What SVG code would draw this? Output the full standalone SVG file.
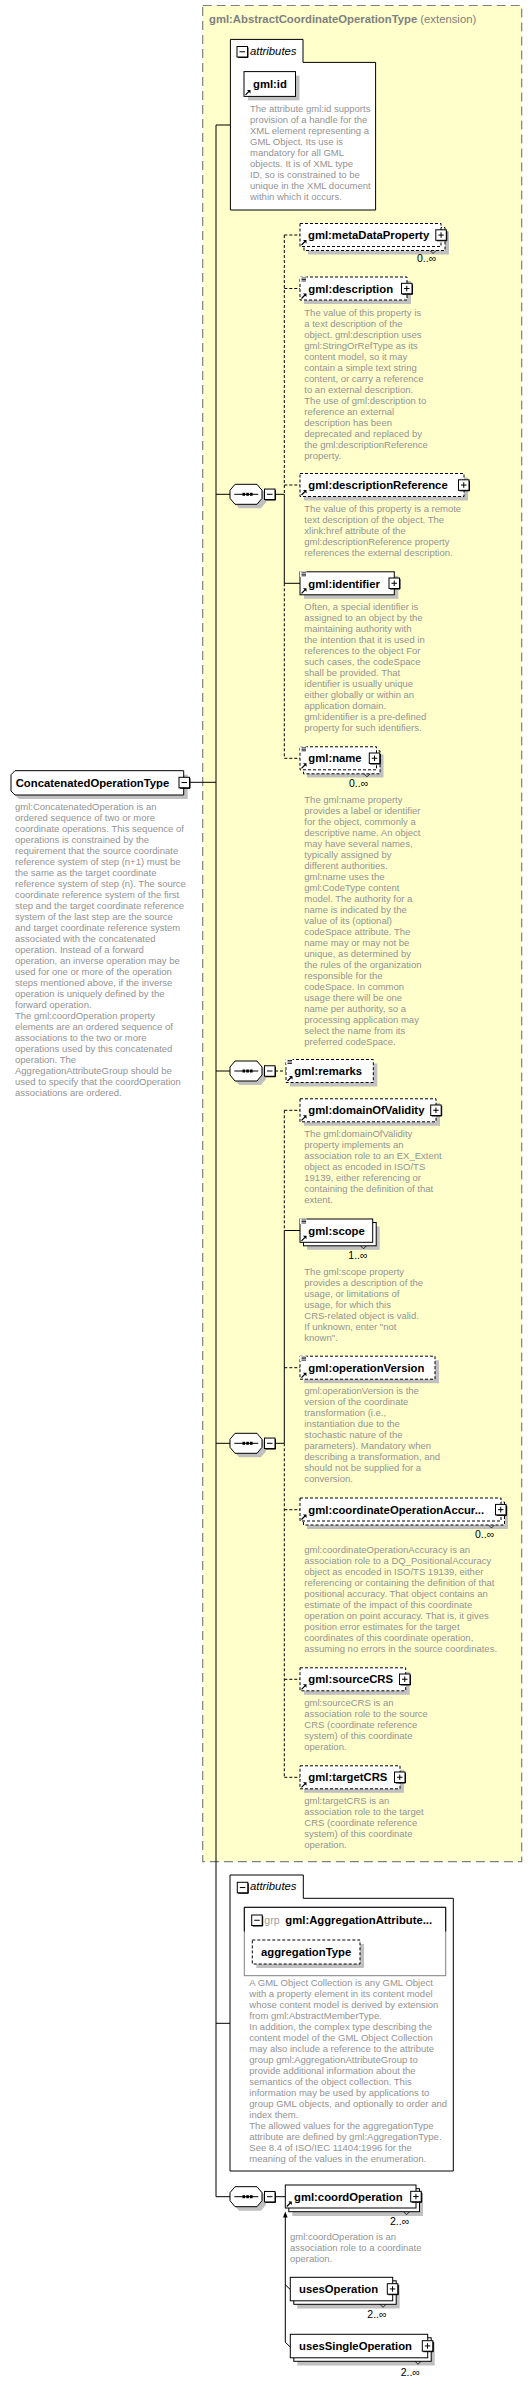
<svg xmlns="http://www.w3.org/2000/svg" width="532" height="2384" viewBox="0 0 532 2384">
<style>
text{font-family:"Liberation Sans",Arial,sans-serif}
.desc{font-size:9.5px;fill:#939393}
.nm{font-size:11.3px;font-weight:bold;fill:#000}
.occ{font-size:10.5px;fill:#000}
.sh{fill:#c0c0c0;stroke:none}
.box{fill:#fff;stroke:#000;stroke-width:1}
.dbox{fill:#fff;stroke:#000;stroke-width:1;stroke-dasharray:3,2}
.ln{stroke:#000;stroke-width:1;fill:none}
.dln{stroke:#000;stroke-width:1;fill:none;stroke-dasharray:3,2}
.notch{fill:none;stroke:#000;stroke-width:0.8}
</style>
<defs>
<g id="plus"><rect x="0" y="0" width="10.5" height="10.5" fill="#fff" stroke="#000"/><path d="M11,1V11H1" fill="none" stroke="#000"/><path d="M2.5,5.25H8M5.25,2.5V8" stroke="#000"/></g>
<g id="minus"><rect x="0" y="0" width="10.5" height="10.5" fill="#fff" stroke="#000"/><path d="M11,1V11H1" fill="none" stroke="#000"/><path d="M2.5,5.25H8" stroke="#000"/></g>
<g id="lines"><rect x="-0.5" y="-0.5" width="6.5" height="5.5" fill="#fff"/><path d="M1,1H5.5M1,2.5H5.5M1,4H5.5" stroke="#000" stroke-width="0.8"/></g>
<g id="ref"><path d="M1.5,-1.5L5,-5" stroke="#000" stroke-width="1.2"/><path d="M3,-6.5H6.5V-3Z" fill="#000"/></g>
<g id="seq">
<path class="sh" d="M4,0L9,-6H31L36,0V8L31,14H9L4,8Z"/>
<path class="box" d="M0,-4L5,-10H27L32,-4V4L27,10H5L0,4Z"/>
<path d="M4.3,0H28.3" stroke="#000"/>
<rect x="12.5" y="-1.5" width="2.6" height="3" fill="#000"/><rect x="16.3" y="-1.5" width="2.6" height="3" fill="#000"/><rect x="20" y="-1.5" width="2.6" height="3" fill="#000"/>
<use href="#minus" x="34.5" y="-5.25"/>
</g>
</defs>

<rect x="0" y="0" width="532" height="2384" fill="#fff"/>

<g id="ext-AbstractCoordinateOperationType">
<rect x="202.7" y="5.5" width="319" height="1856.2" fill="#ffffcc" stroke="#808080" stroke-width="1.2" stroke-dasharray="9,5"/>
<text x="209" y="23" style="font-size:11.3px;fill:#808080"><tspan font-weight="bold">gml:AbstractCoordinateOperationType</tspan> (extension)</text>
</g>

<g id="connectors">
<path class="ln" d="M216,125V2196.7M189.7,782.3H216M216,125H230.4M216,494.3H230M216,1071H230M216,1443.3H230M216,2023.3H230M216,2196.7H230"/>
<path class="ln" d="M275,494.3H284.3M284.3,494.3V583.3M284.3,583.3H300"/>
<path class="dln" d="M284.3,235V494.3M284.3,583.3V758.3M284.3,235H300M284.3,288.5H300M284.3,485H300M284.3,758.3H300"/>
<path class="dln" d="M275,1071H286"/>
<path class="ln" d="M275,1443.3H284.3M284.3,1230.5V1443.3M284.3,1230.5H300"/>
<path class="dln" d="M284.3,1110.3V1230.5M284.3,1443.3V1777.3M284.3,1110.3H300M284.3,1367.7H300M284.3,1509.7H300M284.3,1679.3H300M284.3,1777.3H300"/>
<path class="ln" d="M275,2196.7H285.3"/>
<path class="ln" d="M285.3,2216V2342.3M285.3,2284.8L290.3,2289.5M285.3,2342.3L290.3,2347"/>
<path d="M285.3,2211.5L283,2217.5H287.6Z" fill="#000"/>
<use href="#seq" x="230" y="494.3"/>
<use href="#seq" x="230" y="1071"/>
<use href="#seq" x="230" y="1443.3"/>
<use href="#seq" x="230" y="2196.7"/>
</g>

<g id="n-ConcatenatedOperationType">
<path class="sh" d="M19,774.7H187.7V799H19L15,795V778.7Z"/>
<path class="box" d="M15,770.7H183.7V795H15L11,791V774.7Z"/>
<text class="nm" x="15.7" y="786.5">ConcatenatedOperationType</text>
<use href="#minus" x="179" y="777.3"/>
<text class="desc" x="15" y="810"><tspan x="15" dy="0">gml:ConcatenatedOperation is an</tspan><tspan x="15" dy="11">ordered sequence of two or more</tspan><tspan x="15" dy="11">coordinate operations. This sequence of</tspan><tspan x="15" dy="11">operations is constrained by the</tspan><tspan x="15" dy="11">requirement that the source coordinate</tspan><tspan x="15" dy="11">reference system of step (n+1) must be</tspan><tspan x="15" dy="11">the same as the target coordinate</tspan><tspan x="15" dy="11">reference system of step (n). The source</tspan><tspan x="15" dy="11">coordinate reference system of the first</tspan><tspan x="15" dy="11">step and the target coordinate reference</tspan><tspan x="15" dy="11">system of the last step are the source</tspan><tspan x="15" dy="11">and target coordinate reference system</tspan><tspan x="15" dy="11">associated with the concatenated</tspan><tspan x="15" dy="11">operation. Instead of a forward</tspan><tspan x="15" dy="11">operation, an inverse operation may be</tspan><tspan x="15" dy="11">used for one or more of the operation</tspan><tspan x="15" dy="11">steps mentioned above, if the inverse</tspan><tspan x="15" dy="11">operation is uniquely defined by the</tspan><tspan x="15" dy="11">forward operation.</tspan><tspan x="15" dy="11">The gml:coordOperation property</tspan><tspan x="15" dy="11">elements are an ordered sequence of</tspan><tspan x="15" dy="11">associations to the two or more</tspan><tspan x="15" dy="11">operations used by this concatenated</tspan><tspan x="15" dy="11">operation. The</tspan><tspan x="15" dy="11">AggregationAttributeGroup should be</tspan><tspan x="15" dy="11">used to specify that the coordOperation</tspan><tspan x="15" dy="11">associations are ordered.</tspan></text>
</g>

<g id="attributes-1">
<path class="box" d="M230.4,39.4H303V62.4H375.6V210H230.4Z"/>
<use href="#minus" x="237" y="46.5"/>
<text x="250" y="55" style="font-size:11.3px;font-style:italic;fill:#000">attributes</text>
</g>

<g id="a-gml-id">
<rect class="sh" x="248" y="75.6" width="51.5" height="24.8"/>
<rect class="box" x="244" y="71.6" width="51.5" height="24.8"/>
<use href="#ref" x="244" y="96.4"/>
<text class="nm" x="253" y="87.5">gml:id</text>
<text class="desc" x="250" y="112"><tspan x="250" dy="0">The attribute gml:id supports</tspan><tspan x="250" dy="11">provision of a handle for the</tspan><tspan x="250" dy="11">XML element representing a</tspan><tspan x="250" dy="11">GML Object. Its use is</tspan><tspan x="250" dy="11">mandatory for all GML</tspan><tspan x="250" dy="11">objects. It is of XML type</tspan><tspan x="250" dy="11">ID, so is constrained to be</tspan><tspan x="250" dy="11">unique in the XML document</tspan><tspan x="250" dy="11">within which it occurs.</tspan></text>
</g>

<g id="e-metaDataProperty">
<rect class="sh" x="308" y="231.5" width="141" height="23"/>
<rect class="dbox" x="304" y="227.5" width="141" height="23"/>
<rect class="dbox" x="300" y="223.5" width="141" height="23"/>
<path class="notch" d="M430,250.5L433,253.5L436,250.5"/>
<use href="#ref" x="300" y="246.5"/>
<text class="nm" x="308" y="239">gml:metaDataProperty</text>
<use href="#plus" x="435.8" y="229.8"/>
<text class="occ" x="417" y="262">0..∞</text>
</g>

<g id="e-description">
<rect class="sh" x="304" y="281" width="107" height="23"/>
<rect class="dbox" x="300" y="277" width="107" height="23"/>
<use href="#lines" x="300.5" y="277"/>
<use href="#ref" x="300" y="300"/>
<text class="nm" x="308.3" y="292.5">gml:description</text>
<use href="#plus" x="401.5" y="283.3"/>
<text class="desc" x="304.3" y="315.5"><tspan x="304.3" dy="0">The value of this property is</tspan><tspan x="304.3" dy="11">a text description of the</tspan><tspan x="304.3" dy="11">object. gml:description uses</tspan><tspan x="304.3" dy="11">gml:StringOrRefType as its</tspan><tspan x="304.3" dy="11">content model, so it may</tspan><tspan x="304.3" dy="11">contain a simple text string</tspan><tspan x="304.3" dy="11">content, or carry a reference</tspan><tspan x="304.3" dy="11">to an external description.</tspan><tspan x="304.3" dy="11">The use of gml:description to</tspan><tspan x="304.3" dy="11">reference an external</tspan><tspan x="304.3" dy="11">description has been</tspan><tspan x="304.3" dy="11">deprecated and replaced by</tspan><tspan x="304.3" dy="11">the gml:descriptionReference</tspan><tspan x="304.3" dy="11">property.</tspan></text>
</g>

<g id="e-descriptionReference">
<rect class="sh" x="304" y="477.5" width="164" height="23"/>
<rect class="dbox" x="300" y="473.5" width="164" height="23"/>
<use href="#ref" x="300" y="496.5"/>
<text class="nm" x="308.3" y="489">gml:descriptionReference</text>
<use href="#plus" x="458.5" y="479.8"/>
<text class="desc" x="304.3" y="511.7"><tspan x="304.3" dy="0">The value of this property is a remote</tspan><tspan x="304.3" dy="11">text description of the object. The</tspan><tspan x="304.3" dy="11">xlink:href attribute of the</tspan><tspan x="304.3" dy="11">gml:descriptionReference property</tspan><tspan x="304.3" dy="11">references the external description.</tspan></text>
</g>

<g id="e-identifier">
<rect class="sh" x="304" y="575.8" width="94.3" height="23"/>
<rect class="box" x="300" y="571.8" width="94.3" height="23"/>
<use href="#lines" x="300.5" y="571.8"/>
<use href="#ref" x="300" y="594.8"/>
<text class="nm" x="308.3" y="587.5">gml:identifier</text>
<use href="#plus" x="389" y="578"/>
<text class="desc" x="304.3" y="610"><tspan x="304.3" dy="0">Often, a special identifier is</tspan><tspan x="304.3" dy="11">assigned to an object by the</tspan><tspan x="304.3" dy="11">maintaining authority with</tspan><tspan x="304.3" dy="11">the intention that it is used in</tspan><tspan x="304.3" dy="11">references to the object For</tspan><tspan x="304.3" dy="11">such cases, the codeSpace</tspan><tspan x="304.3" dy="11">shall be provided. That</tspan><tspan x="304.3" dy="11">identifier is usually unique</tspan><tspan x="304.3" dy="11">either globally or within an</tspan><tspan x="304.3" dy="11">application domain.</tspan><tspan x="304.3" dy="11">gml:identifier is a pre-defined</tspan><tspan x="304.3" dy="11">property for such identifiers.</tspan></text>
</g>

<g id="e-name">
<rect class="sh" x="307" y="754.5" width="76.5" height="23"/>
<rect class="dbox" x="303.5" y="750.8" width="76.5" height="23"/>
<rect class="dbox" x="300" y="746.8" width="76.5" height="23"/>
<path class="notch" d="M364,773.8L367,776.8L370,773.8"/>
<use href="#lines" x="300.5" y="746.8"/>
<use href="#ref" x="300" y="769.8"/>
<text class="nm" x="308.3" y="762">gml:name</text>
<use href="#plus" x="369.3" y="753"/>
<text class="occ" x="349" y="786.7">0..∞</text>
<text class="desc" x="304.3" y="802.5"><tspan x="304.3" dy="0">The gml:name property</tspan><tspan x="304.3" dy="11">provides a label or identifier</tspan><tspan x="304.3" dy="11">for the object, commonly a</tspan><tspan x="304.3" dy="11">descriptive name. An object</tspan><tspan x="304.3" dy="11">may have several names,</tspan><tspan x="304.3" dy="11">typically assigned by</tspan><tspan x="304.3" dy="11">different authorities.</tspan><tspan x="304.3" dy="11">gml:name uses the</tspan><tspan x="304.3" dy="11">gml:CodeType content</tspan><tspan x="304.3" dy="11">model.  The authority for a</tspan><tspan x="304.3" dy="11">name is indicated by the</tspan><tspan x="304.3" dy="11">value of its (optional)</tspan><tspan x="304.3" dy="11">codeSpace attribute.  The</tspan><tspan x="304.3" dy="11">name may or may not be</tspan><tspan x="304.3" dy="11">unique, as determined by</tspan><tspan x="304.3" dy="11">the rules of the organization</tspan><tspan x="304.3" dy="11">responsible for the</tspan><tspan x="304.3" dy="11">codeSpace.  In common</tspan><tspan x="304.3" dy="11">usage there will be one</tspan><tspan x="304.3" dy="11">name per authority, so a</tspan><tspan x="304.3" dy="11">processing application may</tspan><tspan x="304.3" dy="11">select the name from its</tspan><tspan x="304.3" dy="11">preferred codeSpace.</tspan></text>
</g>

<g id="e-remarks">
<rect class="sh" x="290" y="1063.5" width="87.3" height="23"/>
<rect class="dbox" x="286" y="1059.5" width="87.3" height="23"/>
<use href="#lines" x="286.5" y="1059.5"/>
<use href="#ref" x="286" y="1082.5"/>
<text class="nm" x="294.3" y="1075">gml:remarks</text>
</g>

<g id="e-domainOfValidity">
<rect class="sh" x="304" y="1102.8" width="136" height="23"/>
<rect class="dbox" x="300" y="1098.8" width="136" height="23"/>
<use href="#ref" x="300" y="1121.8"/>
<text class="nm" x="308.3" y="1114.3">gml:domainOfValidity</text>
<use href="#plus" x="430.7" y="1105"/>
<text class="desc" x="304.3" y="1136.7"><tspan x="304.3" dy="0">The gml:domainOfValidity</tspan><tspan x="304.3" dy="11">property implements an</tspan><tspan x="304.3" dy="11">association role to an EX_Extent</tspan><tspan x="304.3" dy="11">object as encoded in ISO/TS</tspan><tspan x="304.3" dy="11">19139, either referencing or</tspan><tspan x="304.3" dy="11">containing the definition of that</tspan><tspan x="304.3" dy="11">extent.</tspan></text>
</g>

<g id="e-scope">
<rect class="sh" x="307" y="1226.5" width="72.7" height="23.3"/>
<rect class="box" x="303.5" y="1222.5" width="72.7" height="23.3"/>
<rect class="box" x="300" y="1219" width="72.7" height="23.3"/>
<path class="notch" d="M360.5,1245.8L363.5,1248.8L366.5,1245.8"/>
<use href="#lines" x="300.5" y="1219"/>
<use href="#ref" x="300" y="1242.3"/>
<text class="nm" x="308.3" y="1234.5">gml:scope</text>
<text class="occ" x="348.3" y="1259.3">1..∞</text>
<text class="desc" x="304.3" y="1275"><tspan x="304.3" dy="0">The gml:scope property</tspan><tspan x="304.3" dy="11">provides a description of the</tspan><tspan x="304.3" dy="11">usage, or limitations of</tspan><tspan x="304.3" dy="11">usage, for which this</tspan><tspan x="304.3" dy="11">CRS-related object is valid.</tspan><tspan x="304.3" dy="11">If unknown, enter "not</tspan><tspan x="304.3" dy="11">known".</tspan></text>
</g>

<g id="e-operationVersion">
<rect class="sh" x="304" y="1360.2" width="135" height="23"/>
<rect class="dbox" x="300" y="1356.2" width="135" height="23"/>
<use href="#lines" x="300.5" y="1356.2"/>
<use href="#ref" x="300" y="1379.2"/>
<text class="nm" x="308.3" y="1371.7">gml:operationVersion</text>
<text class="desc" x="304.3" y="1394"><tspan x="304.3" dy="0">gml:operationVersion is the</tspan><tspan x="304.3" dy="11">version of the coordinate</tspan><tspan x="304.3" dy="11">transformation (i.e.,</tspan><tspan x="304.3" dy="11">instantiation due to the</tspan><tspan x="304.3" dy="11">stochastic nature of the</tspan><tspan x="304.3" dy="11">parameters). Mandatory when</tspan><tspan x="304.3" dy="11">describing a transformation, and</tspan><tspan x="304.3" dy="11">should not be supplied for a</tspan><tspan x="304.3" dy="11">conversion.</tspan></text>
</g>

<g id="e-coordinateOperationAccuracy">
<rect class="sh" x="307" y="1506" width="201" height="23"/>
<rect class="dbox" x="303.5" y="1502" width="201" height="23"/>
<rect class="dbox" x="300" y="1498" width="201" height="23"/>
<path class="notch" d="M488.5,1525L491.5,1528L494.5,1525"/>
<use href="#ref" x="300" y="1521"/>
<text class="nm" x="308.3" y="1513.7">gml:coordinateOperationAccur...</text>
<use href="#plus" x="495.5" y="1504.4"/>
<text class="occ" x="475" y="1538.3">0..∞</text>
<text class="desc" x="304.3" y="1553.3"><tspan x="304.3" dy="0">gml:coordinateOperationAccuracy is an</tspan><tspan x="304.3" dy="11">association role to a DQ_PositionalAccuracy</tspan><tspan x="304.3" dy="11">object as encoded in ISO/TS 19139, either</tspan><tspan x="304.3" dy="11">referencing or containing the definition of that</tspan><tspan x="304.3" dy="11">positional accuracy. That object contains an</tspan><tspan x="304.3" dy="11">estimate of the impact of this coordinate</tspan><tspan x="304.3" dy="11">operation on point accuracy. That is, it gives</tspan><tspan x="304.3" dy="11">position error estimates for the target</tspan><tspan x="304.3" dy="11">coordinates of this coordinate operation,</tspan><tspan x="304.3" dy="11">assuming no errors in the source coordinates.</tspan></text>
</g>

<g id="e-sourceCRS">
<rect class="sh" x="304" y="1671.8" width="105.7" height="23"/>
<rect class="dbox" x="300" y="1667.8" width="105.7" height="23"/>
<use href="#ref" x="300" y="1690.8"/>
<text class="nm" x="308.3" y="1683.2">gml:sourceCRS</text>
<use href="#plus" x="399.5" y="1674"/>
<text class="desc" x="304.3" y="1706"><tspan x="304.3" dy="0">gml:sourceCRS is an</tspan><tspan x="304.3" dy="11">association role to the source</tspan><tspan x="304.3" dy="11">CRS (coordinate reference</tspan><tspan x="304.3" dy="11">system) of this coordinate</tspan><tspan x="304.3" dy="11">operation.</tspan></text>
</g>

<g id="e-targetCRS">
<rect class="sh" x="304" y="1769.8" width="100" height="23"/>
<rect class="dbox" x="300" y="1765.8" width="100" height="23"/>
<use href="#ref" x="300" y="1788.8"/>
<text class="nm" x="308.3" y="1781.2">gml:targetCRS</text>
<use href="#plus" x="394.5" y="1772"/>
<text class="desc" x="304.3" y="1804"><tspan x="304.3" dy="0">gml:targetCRS is an</tspan><tspan x="304.3" dy="11">association role to the target</tspan><tspan x="304.3" dy="11">CRS (coordinate reference</tspan><tspan x="304.3" dy="11">system) of this coordinate</tspan><tspan x="304.3" dy="11">operation.</tspan></text>
</g>

<g id="attributes-2">
<path class="box" d="M230,1875H303.3V1898.3H453.3V2171H230Z"/>
<use href="#minus" x="237.3" y="1882.3"/>
<text x="250" y="1890" style="font-size:11.3px;font-style:italic;fill:#000">attributes</text>
</g>

<g id="g-AggregationAttributeGroup">
<rect x="244.3" y="1907.3" width="201.4" height="68.4" fill="#fff" stroke="#808080"/>
<path d="M244.3,1931.5V1907.3H445.7V1931.5" fill="none" stroke="#000"/>
<use href="#minus" x="251.7" y="1915"/>
<text x="264.3" y="1923.5" style="font-size:10.5px;fill:#a0a0a0">grp</text>
<text class="nm" x="285.3" y="1923.5">gml:AggregationAttribute...</text>
</g>

<g id="a-aggregationType">
<rect class="sh" x="256.3" y="1944" width="107.7" height="24"/>
<rect class="dbox" x="252.3" y="1940" width="107.7" height="24"/>
<text class="nm" x="261" y="1956">aggregationType</text>
<text class="desc" x="249.3" y="1986"><tspan x="249.3" dy="0">A GML Object Collection is any GML Object</tspan><tspan x="249.3" dy="11">with a property element in its content model</tspan><tspan x="249.3" dy="11">whose content model is derived by extension</tspan><tspan x="249.3" dy="11">from gml:AbstractMemberType.</tspan><tspan x="249.3" dy="11">In addition, the complex type describing the</tspan><tspan x="249.3" dy="11">content model of the GML Object Collection</tspan><tspan x="249.3" dy="11">may also include a reference to the attribute</tspan><tspan x="249.3" dy="11">group gml:AggregationAttributeGroup to</tspan><tspan x="249.3" dy="11">provide additional information about the</tspan><tspan x="249.3" dy="11">semantics of the object collection.  This</tspan><tspan x="249.3" dy="11">information may be used by applications to</tspan><tspan x="249.3" dy="11">group GML objects, and optionally to order and</tspan><tspan x="249.3" dy="11">index them.</tspan><tspan x="249.3" dy="11">The allowed values for the aggregationType</tspan><tspan x="249.3" dy="11">attribute are defined by gml:AggregationType.</tspan><tspan x="249.3" dy="11">See 8.4 of ISO/IEC 11404:1996 for the</tspan><tspan x="249.3" dy="11">meaning of the values in the enumeration.</tspan></text>
</g>

<g id="e-coordOperation">
<rect class="sh" x="292.3" y="2193" width="130.7" height="23"/>
<rect class="box" x="288.8" y="2188.7" width="130.7" height="23"/>
<rect class="box" x="285.3" y="2185" width="130.7" height="23"/>
<path class="notch" d="M403.5,2211.7L406.5,2214.7L409.5,2211.7"/>
<use href="#ref" x="285.3" y="2208"/>
<text class="nm" x="294" y="2200.5">gml:coordOperation</text>
<use href="#plus" x="410.7" y="2191.3"/>
<text class="occ" x="390" y="2225">2..∞</text>
<text class="desc" x="290" y="2240"><tspan x="290" dy="0">gml:coordOperation is an</tspan><tspan x="290" dy="11">association role to a coordinate</tspan><tspan x="290" dy="11">operation.</tspan></text>
</g>

<g id="e-usesOperation">
<rect class="sh" x="297.3" y="2285" width="102.4" height="23.5"/>
<rect class="box" x="293.8" y="2280.8" width="102.4" height="23.5"/>
<rect class="box" x="290.3" y="2277.3" width="102.4" height="23.5"/>
<path class="notch" d="M380,2304.3L383,2307.3L386,2304.3"/>
<text class="nm" x="299" y="2293">usesOperation</text>
<use href="#plus" x="387.3" y="2283.7"/>
<text class="occ" x="367.3" y="2318.3">2..∞</text>
</g>

<g id="e-usesSingleOperation">
<rect class="sh" x="297.3" y="2342" width="137.4" height="23.5"/>
<rect class="box" x="293.8" y="2337.8" width="137.4" height="23.5"/>
<rect class="box" x="290.3" y="2334.3" width="137.4" height="23.5"/>
<path class="notch" d="M415,2361.3L418,2364.3L421,2361.3"/>
<text class="nm" x="299" y="2350.3">usesSingleOperation</text>
<use href="#plus" x="422.3" y="2340.7"/>
<text class="occ" x="400.7" y="2375.7">2..∞</text>
</g>
</svg>
